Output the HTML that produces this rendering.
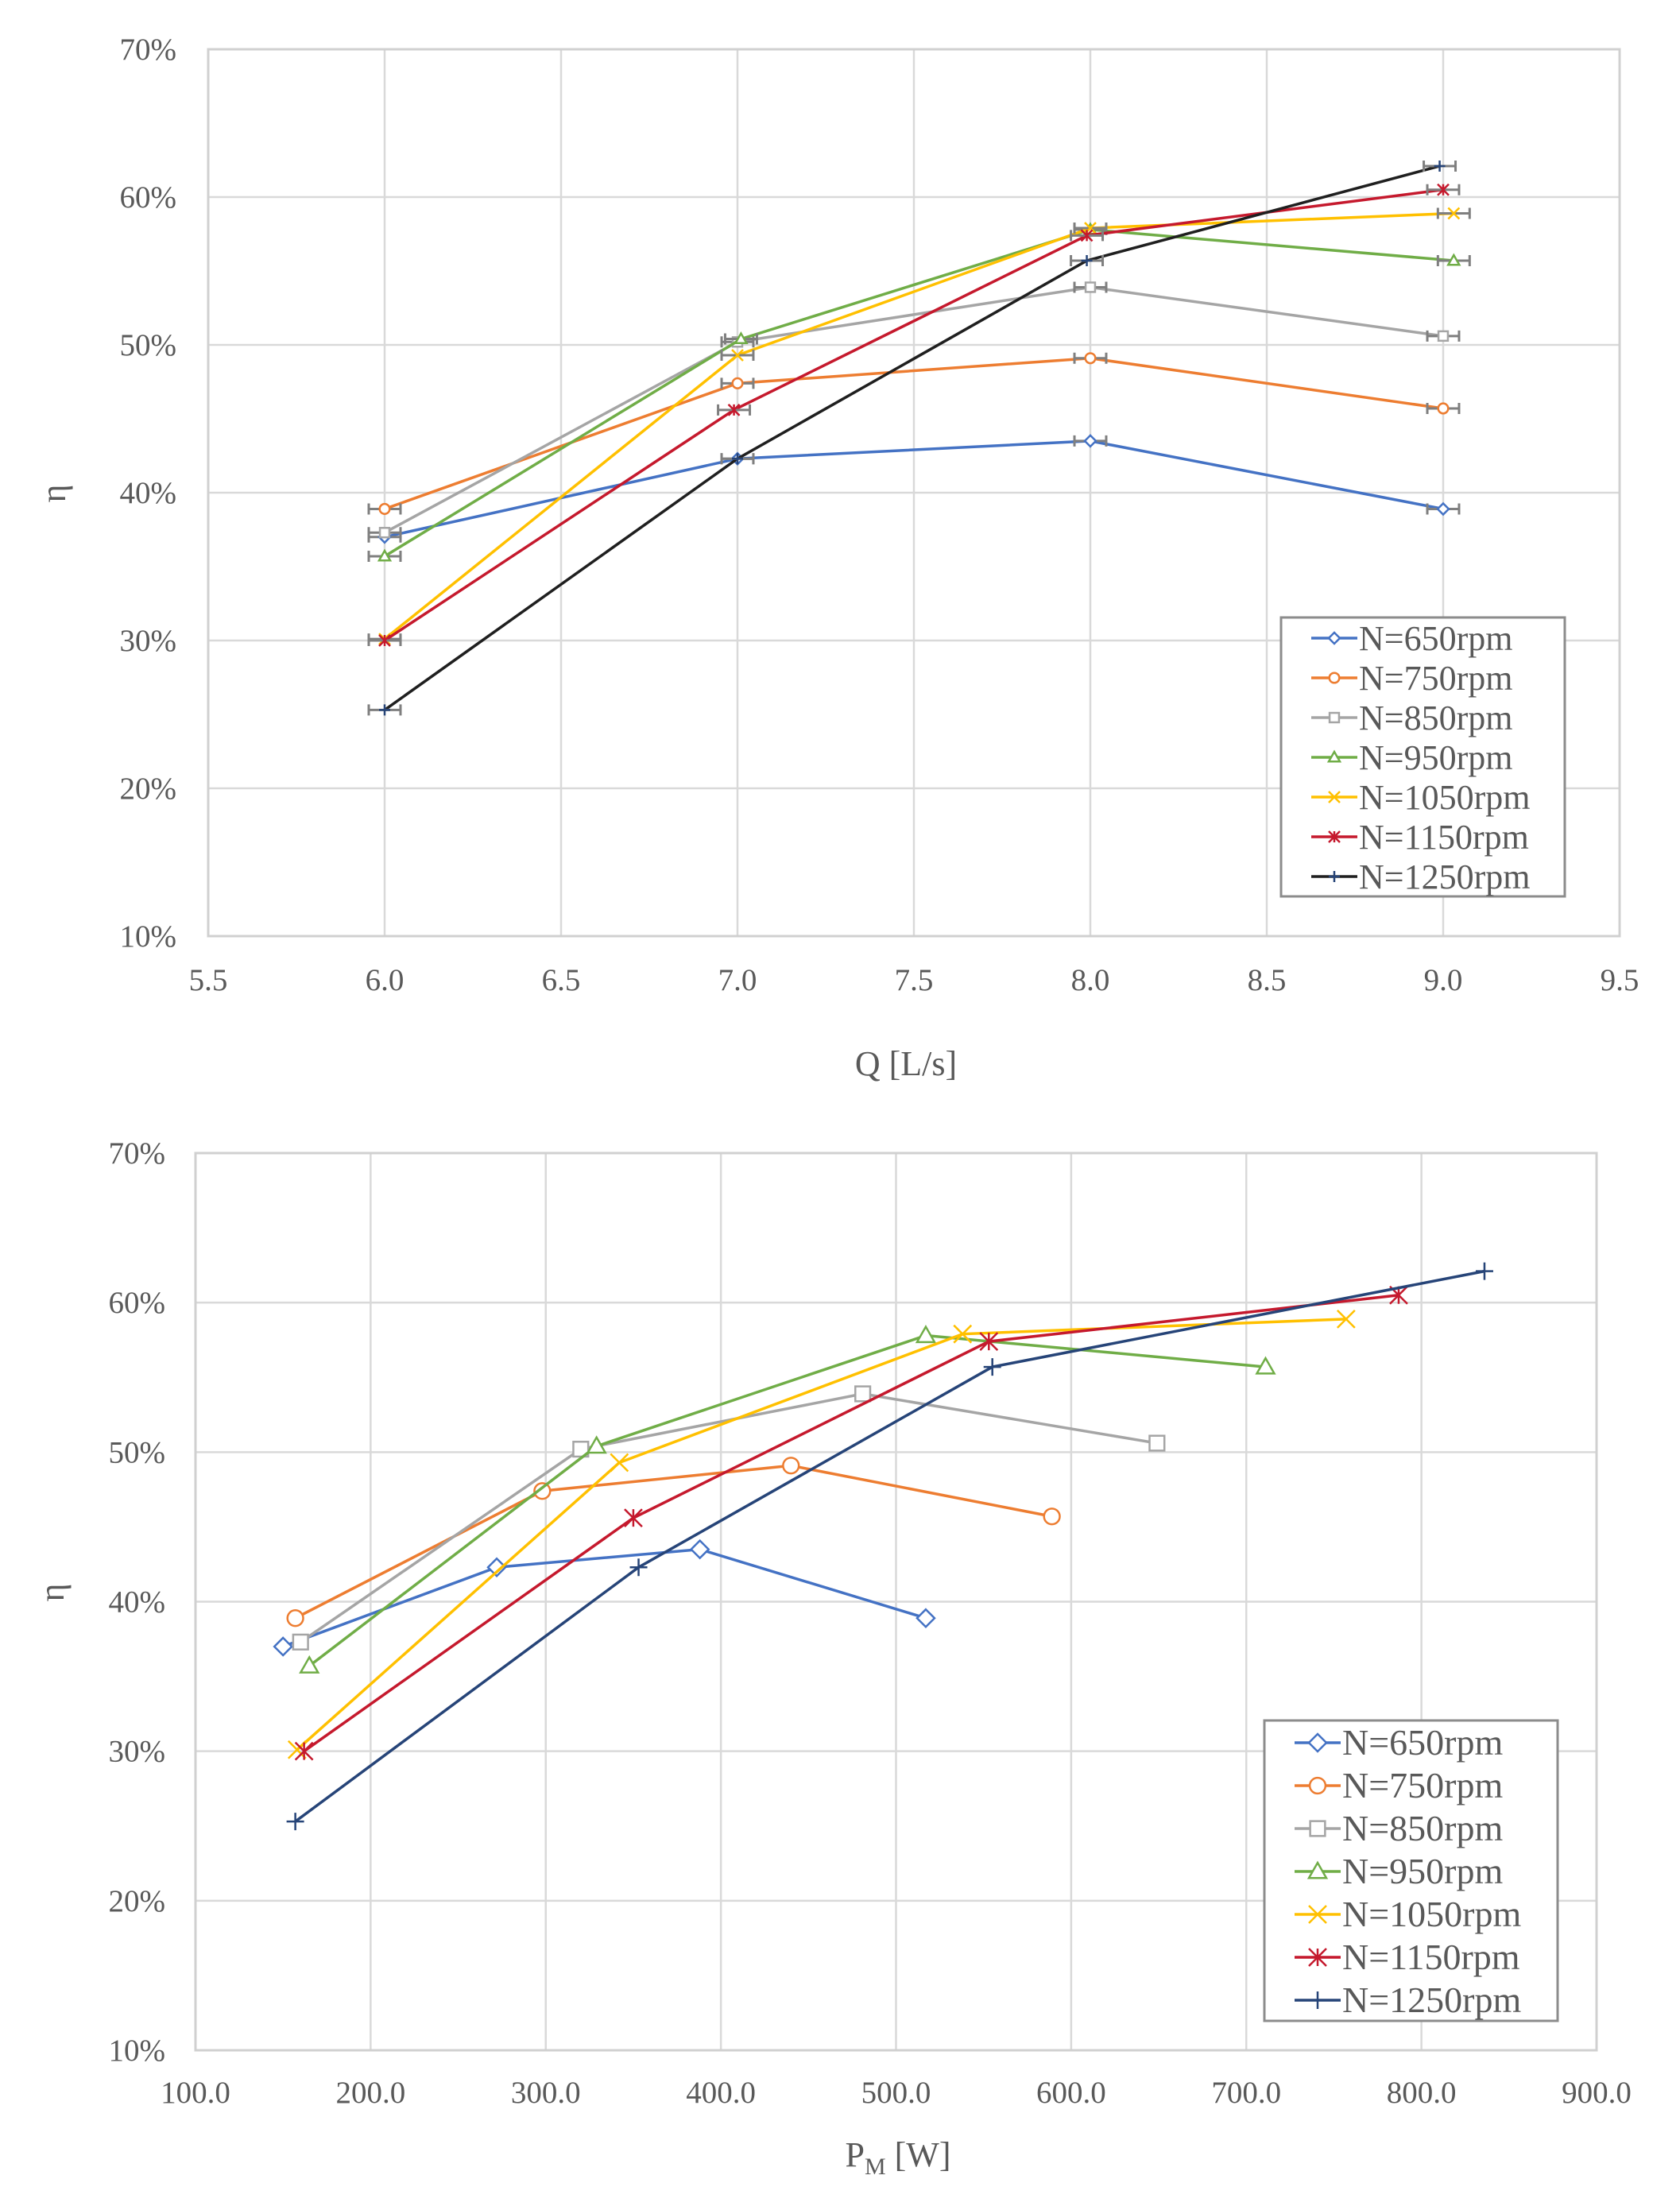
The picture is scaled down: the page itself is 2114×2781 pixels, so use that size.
<!DOCTYPE html>
<html><head><meta charset="utf-8">
<style>
html,body{margin:0;padding:0;background:#fff;}
svg{display:block;}
text{font-family:"Liberation Serif",serif;fill:#595959;}
</style></head>
<body>
<svg id="svg" width="2114" height="2781" viewBox="0 0 2114 2781" xmlns="http://www.w3.org/2000/svg"></svg>
<script>
// ---- data ----
const seriesNames = ["N=650rpm","N=750rpm","N=850rpm","N=950rpm","N=1050rpm","N=1150rpm","N=1250rpm"];
const yTicks = [0.1,0.2,0.3,0.4,0.5,0.6,0.7];
const yTickLabels = ["10%","20%","30%","40%","50%","60%","70%"];
// Chart 1: efficiency vs flow
const q650 = [6.0,7.0,8.0,9.0];     const eff650 = [0.370,0.423,0.435,0.389];
const q750 = [6.0,7.0,8.0,9.0];     const eff750 = [0.389,0.474,0.491,0.457];
const q850 = [6.0,7.0,8.0,9.0];     const eff850 = [0.373,0.502,0.539,0.506];
const q950 = [6.0,7.01,8.0,9.03];   const eff950 = [0.357,0.504,0.578,0.557];
const q1050 = [6.0,7.0,8.0,9.03];   const eff1050 = [0.301,0.493,0.579,0.589];
const q1150 = [6.0,6.99,7.99,9.0];  const eff1150 = [0.300,0.456,0.574,0.605];
const q1250 = [6.0,7.0,7.99,8.99];  const eff1250 = [0.253,0.423,0.557,0.621];
const qTicks = [5.5,6.0,6.5,7.0,7.5,8.0,8.5,9.0,9.5];
const qTickLabels = ["5.5","6.0","6.5","7.0","7.5","8.0","8.5","9.0","9.5"];
const qErr = 0.045;
// Chart 2: efficiency vs power
const p650 = [150,272,388,517];
const p750 = [157,298,440,589];
const p850 = [160,320,481,649];
const p950 = [165,329,517,711];
const p1050 = [158,342,538,757];
const p1150 = [162,350,553,787];
const p1250 = [157,353,555,836];
const pTicks = [100,200,300,400,500,600,700,800,900];
const pTickLabels = ["100.0","200.0","300.0","400.0","500.0","600.0","700.0","800.0","900.0"];

const colors1 = ["#4472C4","#ED7D31","#A5A5A5","#70AD47","#FFC000","#C5192D","#1F1F1F"];
const colors2 = ["#4472C4","#ED7D31","#A5A5A5","#70AD47","#FFC000","#C5192D","#264478"];
const markers = ["diamond","circle","square","triangle","x","star","plus"];

const svg = document.getElementById('svg');
const NS = "http://www.w3.org/2000/svg";
function mk(tag, attrs, parent){
  const e = document.createElementNS(NS, tag);
  for (const k in attrs) e.setAttribute(k, attrs[k]);
  (parent||svg).appendChild(e);
  return e;
}
function marker(g, type, cx, cy, s, color, sw){
  let e;
  if (type==="diamond") e = mk('polygon',{points:`${cx},${cy-s} ${cx+s},${cy} ${cx},${cy+s} ${cx-s},${cy}`,fill:'#fff',stroke:color,'stroke-width':sw},g);
  else if (type==="circle") e = mk('circle',{cx:cx,cy:cy,r:s*0.9,fill:'#fff',stroke:color,'stroke-width':sw},g);
  else if (type==="square") e = mk('rect',{x:cx-s*0.85,y:cy-s*0.85,width:s*1.7,height:s*1.7,fill:'#fff',stroke:color,'stroke-width':sw},g);
  else if (type==="triangle") e = mk('polygon',{points:`${cx},${cy-s} ${cx+s},${cy+s*0.75} ${cx-s},${cy+s*0.75}`,fill:'#fff',stroke:color,'stroke-width':sw},g);
  else if (type==="x") e = mk('path',{d:`M${cx-s},${cy-s}L${cx+s},${cy+s}M${cx-s},${cy+s}L${cx+s},${cy-s}`,stroke:color,'stroke-width':sw,fill:'none'},g);
  else if (type==="star") e = mk('path',{d:`M${cx-s},${cy-s}L${cx+s},${cy+s}M${cx-s},${cy+s}L${cx+s},${cy-s}M${cx},${cy-s}L${cx},${cy+s}`,stroke:color,'stroke-width':sw,fill:'none'},g);
  else e = mk('path',{d:`M${cx-s},${cy}L${cx+s},${cy}M${cx},${cy-s}L${cx},${cy+s}`,stroke:color,'stroke-width':sw,fill:'none'},g);
  
  
}

function chart(cfg){
  const g = mk('g',{});
  
  
  const L=cfg.L,R=cfg.R,T=cfg.T,B=cfg.B;
  const sx = v => L + (v-cfg.xTicks[0])/(cfg.xTicks[cfg.xTicks.length-1]-cfg.xTicks[0])*(R-L);
  const sy = v => B - (v-yTicks[0])/(yTicks[yTicks.length-1]-yTicks[0])*(B-T);
  cfg.xTicks.forEach((t,i)=>{
    const l = mk('line',{x1:sx(t),x2:sx(t),y1:T,y2:B,stroke:'#D9D9D9','stroke-width':2.5},g);
     
    const tx = mk('text',{x:sx(t),y:cfg.xLabY,'font-size':39,'text-anchor':'middle'},g);
    tx.textContent = cfg.xLabels[i];
     
  });
  yTicks.forEach((t,i)=>{
    const l = mk('line',{x1:L,x2:R,y1:sy(t),y2:sy(t),stroke:'#D9D9D9','stroke-width':2.5},g);
     
    const tx = mk('text',{x:cfg.yLabX,y:sy(t)+13,'font-size':39,'text-anchor':'end'},g);
    tx.textContent = yTickLabels[i];
     
  });
  const fr = mk('rect',{x:L,y:T,width:R-L,height:B-T,fill:'none',stroke:'#D0D0D0','stroke-width':3},g);
   
  cfg.xs.forEach((xs,si)=>{
    const ys = cfg.ys[si], col = cfg.colors[si];
    const sg = mk('g',{},g);
    
    
    const pts = xs.map((x,i)=>sx(x)+','+sy(ys[i])).join(' ');
    const pl = mk('polyline',{points:pts,fill:'none',stroke:col,'stroke-width':cfg.lw},sg);
     
    xs.forEach((x,i)=>{
      if (cfg.err){
        const x1=sx(x-cfg.err), x2=sx(x+cfg.err), y=sy(ys[i]);
        const eb = mk('path',{d:`M${x1},${y}L${x2},${y}M${x1},${y-7}L${x1},${y+7}M${x2},${y-7}L${x2},${y+7}`,stroke:'#7F7F7F','stroke-width':3,fill:'none'},sg);
         
      }
      marker(sg, markers[si], sx(x), sy(ys[i]), cfg.ms, si===6&&cfg.err? '#264478':col, cfg.msw);
    });
  });
  // legend
  const lg = mk('g',{},g);
   
  const lb = mk('rect',{x:cfg.lgX,y:cfg.lgY,width:cfg.lgW,height:cfg.lgH,fill:'#fff',stroke:'#8C8C8C','stroke-width':3},lg);
   
  seriesNames.forEach((n,si)=>{
    const y = cfg.lgY+cfg.lgFirst+si*cfg.lgStep;
    const eg = mk('g',{},lg);
     
    const col = cfg.colors[si];
    mk('line',{x1:cfg.lgX+38,x2:cfg.lgX+96,y1:y,y2:y,stroke:col,'stroke-width':cfg.lw},eg);
    marker(eg, markers[si], cfg.lgX+67, y, cfg.ms, si===6&&cfg.err?'#264478':col, cfg.msw);
    const t = mk('text',{x:cfg.lgX+98,y:y+15,'font-size':cfg.lgFont},eg);
    t.textContent = n;
  });
  // axis titles
  const yt = mk('text',{x:0,y:0,'font-size':44,'text-anchor':'middle',transform:`translate(${cfg.yTitleX},${cfg.yTitleY}) rotate(-90)`},g);
  yt.textContent = 'η';
   
  const xt = mk('text',{x:cfg.xTitleX,y:cfg.xTitleY,'font-size':44,'text-anchor':'middle'},g);
   
  if (cfg.sub){
    xt.appendChild(document.createTextNode('P'));
    const ts = document.createElementNS(NS,'tspan'); ts.setAttribute('font-size',30); ts.setAttribute('dy',10); ts.textContent='M';
    xt.appendChild(ts);
    const ts2 = document.createElementNS(NS,'tspan'); ts2.setAttribute('dy',-10); ts2.textContent=' [W]';
    xt.appendChild(ts2);
  } else xt.textContent = cfg.xTitle;
}

chart({name:'efficiency-vs-flow-chart',L:262,R:2038,T:62,B:1178,
  xTicks:qTicks,xLabels:qTickLabels,xLabY:1246,yLabX:222,
  xs:[q650,q750,q850,q950,q1050,q1150,q1250],
  ys:[eff650,eff750,eff850,eff950,eff1050,eff1150,eff1250],
  colors:colors1,lw:3.5,ms:7,msw:2.5,err:qErr,
  lgX:1612,lgY:777,lgW:357,lgH:351,lgFirst:26,lgStep:50,lgFont:44,
  yTitleX:82,yTitleY:621,xTitle:'Q [L/s]',xTitleX:1140,xTitleY:1353});

chart({name:'efficiency-vs-power-chart',L:246,R:2009,T:1451,B:2580,
  xTicks:pTicks,xLabels:pTickLabels,xLabY:2646,yLabX:208,
  xs:[p650,p750,p850,p950,p1050,p1150,p1250],
  ys:[eff650,eff750,eff850,eff950,eff1050,eff1150,eff1250],
  colors:colors2,lw:3.5,ms:11,msw:2.5,err:0,
  lgX:1591,lgY:2165,lgW:369,lgH:378,lgFirst:28,lgStep:54,lgFont:46,
  yTitleX:80,yTitleY:2004,sub:true,xTitleX:1130,xTitleY:2726});
</script>
</body></html>
